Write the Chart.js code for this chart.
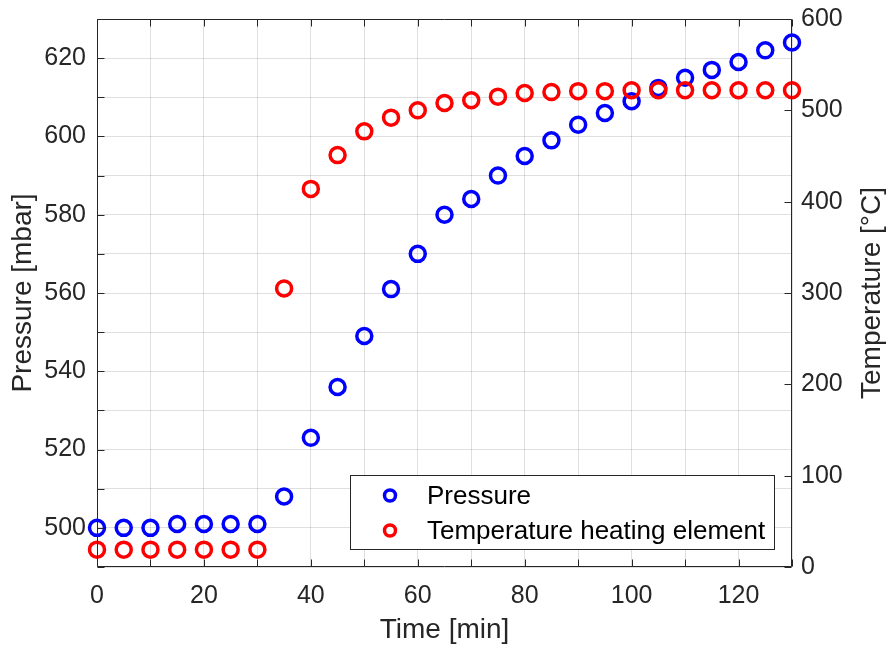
<!DOCTYPE html>
<html>
<head>
<meta charset="utf-8">
<script src="https://cdn.jsdelivr.net/npm/chart.js@4/dist/chart.umd.min.js"></script>
<style>
html,body{margin:0;padding:0;background:#fff;}
#wrap{width:888px;height:649px;position:relative;}
</style>
</head>
<body>
<div id="wrap"><canvas id="c" width="888" height="649"></canvas></div>
<script>
// ---- data ----
const timeMin = [0,5,10,15,20,25,30,35,40,45,50,55,60,65,70,75,80,85,90,95,100,105,110,115,120,125,130];
const pressure = [500,500,500,501,501,501,501,508,523,536,549,561,570,580,584,590,595,599,603,606,609,612.4,615,617,619,622,624];
const temperature = [19,19,19,19,19,19,19,305,414,451,477,492,500,508,511,515,519,520,521,521,522,522,522,522,522,522,522];
const xTickLabels = [0,20,40,60,80,100,120];
const pressureTickLabels = [500,520,540,560,580,600,620];
const temperatureTickLabels = [0,100,200,300,400,500,600];
const seriesNames = ['Pressure','Temperature heating element'];
const seriesColors = ['#0000ff','#ff0000'];

const FONT = "'Liberation Sans', Arial, Helvetica, sans-serif";
const AX = '#262626';
const GRID = 'rgba(38,38,38,0.15)';

const toPoints = (xs, ys) => xs.map((x,i)=>({x:x, y:ys[i]}));

const framePlugin = {
  id:'frame',
  afterDatasetsDraw(chart){
    const {ctx, chartArea:{left,right,top,bottom}, scales} = chart;
    const L=Math.round(left)+0.5, R=Math.round(right)-0.5, T=Math.round(top)+0.5, B=Math.round(bottom)-0.5;
    ctx.save();
    ctx.strokeStyle=AX; ctx.lineWidth=1;
    ctx.beginPath();
    ctx.moveTo(L,T); ctx.lineTo(R,T); ctx.lineTo(R,B); ctx.lineTo(L,B); ctx.closePath();
    const tl=7;
    scales.x.ticks.forEach(t=>{
      const p=Math.round(scales.x.getPixelForValue(t.value))+0.5;
      ctx.moveTo(p,B); ctx.lineTo(p,B-tl);
      ctx.moveTo(p,T); ctx.lineTo(p,T+tl);
    });
    scales.y.ticks.forEach(t=>{
      const p=Math.round(scales.y.getPixelForValue(t.value))+0.5;
      ctx.moveTo(L,p); ctx.lineTo(L+tl,p);
    });
    scales.y1.ticks.forEach(t=>{
      const p=Math.round(scales.y1.getPixelForValue(t.value))+0.5;
      ctx.moveTo(R,p); ctx.lineTo(R-tl,p);
    });
    ctx.stroke();
    ctx.restore();
  },
  afterDraw(chart){
    const {ctx, chartArea:{top,bottom}} = chart;
    ctx.save();
    // right axis title (reads bottom to top)
    ctx.fillStyle=AX;
    ctx.font = "28px "+FONT;
    ctx.textAlign='center'; ctx.textBaseline='middle';
    ctx.translate(872,(top+bottom)/2);
    ctx.rotate(-Math.PI/2);
    ctx.fillText('Temperature [°C]',0,0);
    ctx.restore();
    // legend box
    ctx.save();
    const bx=350.5, by=475.5, bw=424, bh=74;
    ctx.fillStyle='#fff'; ctx.fillRect(bx,by,bw,bh);
    ctx.strokeStyle=AX; ctx.lineWidth=1; ctx.strokeRect(bx,by,bw,bh);
    const rows=[495.5,530.5];
    chart.data.datasets.forEach((ds,i)=>{
      ctx.beginPath();
      ctx.strokeStyle=ds.borderColor; ctx.lineWidth=3.5;
      ctx.arc(390,rows[i],5.5,0,Math.PI*2);
      ctx.stroke();
      ctx.fillStyle='#000';
      ctx.font="26px "+FONT;
      ctx.textAlign='left'; ctx.textBaseline='middle';
      ctx.fillText(ds.label,427,rows[i]+1);
    });
    ctx.restore();
  }
};

function zeroPad(s){ s.paddingTop=0; s.paddingBottom=0; s.paddingLeft=0; s.paddingRight=0; }

new Chart(document.getElementById('c'),{
  type:'scatter',
  data:{
    datasets:[
      {label:seriesNames[0], data:toPoints(timeMin,pressure), yAxisID:'y',
       borderColor:seriesColors[0], backgroundColor:'rgba(0,0,0,0)', pointRadius:7.5, pointBorderWidth:3.5,
       pointHoverRadius:7.5, showLine:false, clip:false, order:1},
      {label:seriesNames[1], data:toPoints(timeMin,temperature), yAxisID:'y1',
       borderColor:seriesColors[1], backgroundColor:'rgba(0,0,0,0)', pointRadius:7.5, pointBorderWidth:3.5,
       pointHoverRadius:7.5, showLine:false, clip:false, order:0}
    ]
  },
  options:{
    responsive:false, animation:false, events:[],
    layout:{padding:{top:19,left:0,right:0,bottom:0}},
    plugins:{legend:{display:false}, tooltip:{enabled:false}},
    scales:{
      x:{type:'linear', position:'bottom', min:0, max:130,
        ticks:{stepSize:10, autoSkip:false, maxRotation:0, padding:14, color:AX, font:{family:FONT,size:25},
          callback:v=>xTickLabels.includes(v)?String(v):''},
        grid:{color:GRID, drawTicks:false, lineWidth:1},
        border:{display:false},
        title:{display:true, text:'Time [min]', color:AX, font:{family:FONT,size:28}, padding:{top:0,bottom:2}},
        afterFit:s=>{s.height=82; zeroPad(s);}
      },
      y:{type:'linear', position:'left', min:490, max:630,
        ticks:{stepSize:10, autoSkip:false, padding:11, color:AX, font:{family:FONT,size:25},
          callback:v=>pressureTickLabels.includes(v)?String(v):''},
        grid:{color:GRID, drawTicks:false, lineWidth:1},
        border:{display:false},
        title:{display:true, text:'Pressure [mbar]', color:AX, font:{family:FONT,size:28}, padding:{top:6,bottom:0}},
        afterFit:s=>{s.width=97; zeroPad(s);}
      },
      y1:{type:'linear', position:'right', min:0, max:600,
        ticks:{stepSize:100, autoSkip:false, padding:9, color:AX, font:{family:FONT,size:25},
          callback:v=>temperatureTickLabels.includes(v)?String(v):''},
        grid:{drawOnChartArea:false, drawTicks:false},
        border:{display:false},
        afterFit:s=>{s.width=96; zeroPad(s);}
      }
    }
  },
  plugins:[framePlugin]
});
</script>
</body>
</html>
